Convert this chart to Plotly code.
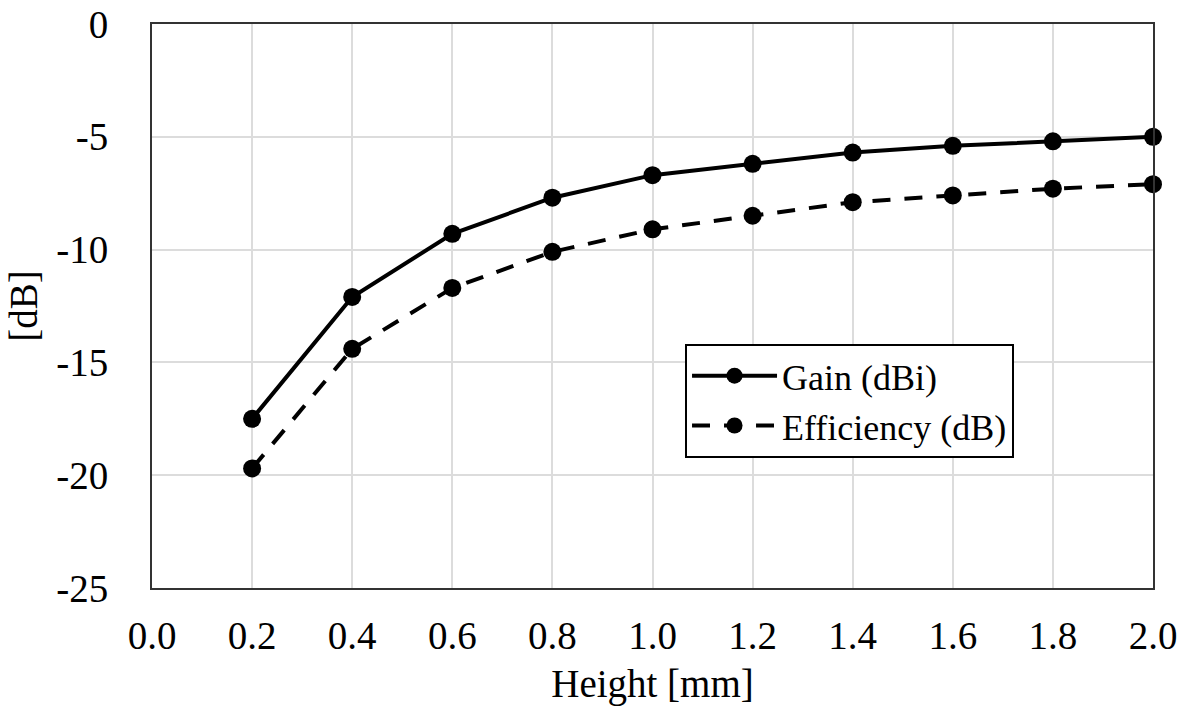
import plotly.graph_objects as go

heights = [0.2, 0.4, 0.6, 0.8, 1.0, 1.2, 1.4, 1.6, 1.8, 2.0]
gain_dbi = [-17.5, -12.1, -9.3, -7.7, -6.7, -6.2, -5.7, -5.4, -5.2, -5.0]
efficiency_db = [-19.7, -14.4, -11.7, -10.1, -9.1, -8.5, -7.9, -7.6, -7.3, -7.1]

x_ticks = [0.0, 0.2, 0.4, 0.6, 0.8, 1.0, 1.2, 1.4, 1.6, 1.8, 2.0]
x_tick_labels = ["0.0", "0.2", "0.4", "0.6", "0.8", "1.0", "1.2", "1.4", "1.6", "1.8", "2.0"]
y_ticks = [0, -5, -10, -15, -20, -25]
y_tick_labels = ["0", "-5", "-10", "-15", "-20", "-25"]

FONT = "Liberation Serif, Times New Roman, serif"

fig = go.Figure()
fig.add_trace(go.Scatter(
    x=heights, y=gain_dbi, name="Gain (dBi)", mode="lines+markers",
    line=dict(color="black", width=4),
    marker=dict(color="black", size=18),
    cliponaxis=False,
))
fig.add_trace(go.Scatter(
    x=heights, y=efficiency_db, name="Efficiency (dB)", mode="lines+markers",
    line=dict(color="black", width=4, dash="18px,14px"),
    marker=dict(color="black", size=18),
    cliponaxis=False,
))

fig.update_layout(
    width=1185, height=706,
    margin=dict(l=152, r=32, t=24, b=118),
    paper_bgcolor="white", plot_bgcolor="white",
    font=dict(family=FONT, size=39, color="black"),
    showlegend=True,
    legend=dict(
        x=0.5325, y=0.433, xanchor="left", yanchor="top",
        bgcolor="white", bordercolor="black", borderwidth=2,
        font=dict(family=FONT, size=36, color="black"),
        itemwidth=85, tracegroupgap=0,
    ),
    xaxis=dict(
        range=[0, 2.0], tickvals=x_ticks, ticktext=x_tick_labels,
        showgrid=True, gridcolor="#dcdcdc", gridwidth=1.5,
        showline=True, linecolor="#333333", linewidth=2, mirror=True,
        ticks="", ticklabelstandoff=12, zeroline=False, automargin=False,
        tickfont=dict(size=39),
        title=dict(text="Height [mm]", standoff=15, font=dict(size=39)),
    ),
    yaxis=dict(
        range=[-25, 0], tickvals=y_ticks, ticktext=y_tick_labels,
        showgrid=True, gridcolor="#dcdcdc", gridwidth=1.5,
        showline=True, linecolor="#333333", linewidth=2, mirror=True,
        ticks="", ticklabelstandoff=34, zeroline=False, automargin=False,
        tickfont=dict(size=39),
        title=dict(text="[dB]", standoff=7, font=dict(size=39)),
    ),
)

fig.write_html("out.html")
